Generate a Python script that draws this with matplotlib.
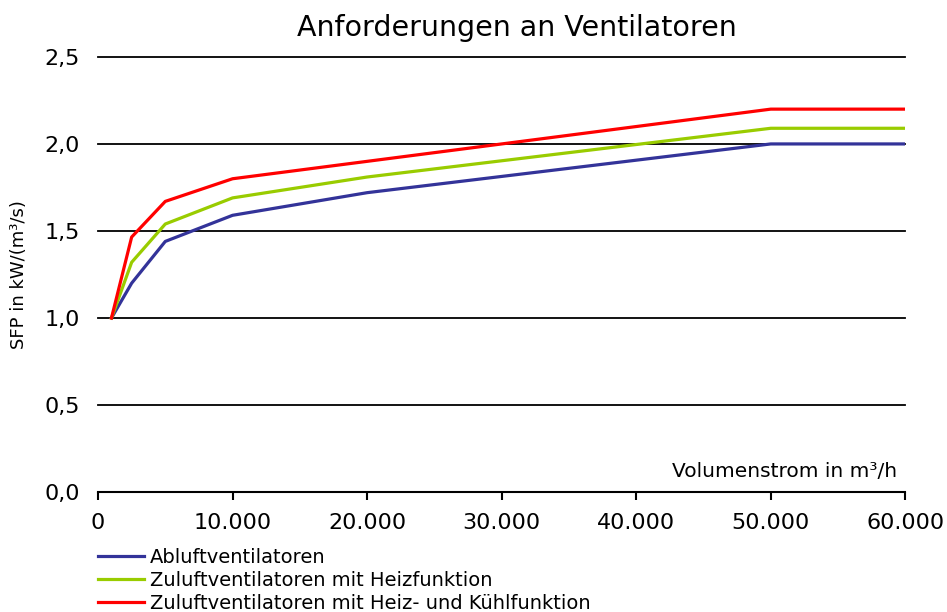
import matplotlib.pyplot as plt
from matplotlib.ticker import FuncFormatter

volumenstrom = [1000, 2500, 5000, 10000, 20000, 50000, 60000]
abluft = [1.0, 1.20, 1.44, 1.59, 1.72, 2.0, 2.0]
zuluft_heiz = [1.0, 1.32, 1.54, 1.69, 1.81, 2.09, 2.09]
zuluft_heiz_kuehl = [1.0, 1.465, 1.67, 1.80, 1.90, 2.2, 2.2]

series_labels = [
    "Abluftventilatoren",
    "Zuluftventilatoren mit Heizfunktion",
    "Zuluftventilatoren mit Heiz- und Kühlfunktion",
]
colors = ["#333399", "#99cc00", "#ff0000"]

plt.rcParams["font.family"] = ["DejaVu Sans"]

fig = plt.figure(figsize=(9.47, 6.12), dpi=100)
ax = fig.add_axes([0.1035, 0.196, 0.8525, 0.711])

for y, label, color in zip([abluft, zuluft_heiz, zuluft_heiz_kuehl], series_labels, colors):
    ax.plot(volumenstrom, y, color=color, lw=2.3, label=label, zorder=3)

ax.set_xlim(0, 60000)
ax.set_ylim(0, 2.5)
ax.set_xticks(range(0, 60001, 10000))
ax.set_yticks([0, 0.5, 1.0, 1.5, 2.0, 2.5])
ax.xaxis.set_major_formatter(FuncFormatter(lambda v, p: f"{int(v):,}".replace(",", ".")))
ax.yaxis.set_major_formatter(FuncFormatter(lambda v, p: f"{v:.1f}".replace(".", ",")))
ax.grid(axis="y", color="black", lw=1.3, zorder=1)
ax.set_axisbelow(True)
for gl in ax.get_ygridlines():
    gl.set_clip_on(False)

for s in ["top", "right", "left"]:
    ax.spines[s].set_visible(False)
ax.spines["bottom"].set_linewidth(1.5)
ax.tick_params(axis="x", direction="out", length=6, width=1.5, labelsize=16, pad=9)
ax.tick_params(axis="y", length=0, labelsize=16, pad=13)

ax.set_ylabel("SFP in kW/(m³/s)", fontsize=13, labelpad=12)
ax.text(0.99, 0.025, "Volumenstrom in m³/h", transform=ax.transAxes,
        ha="right", va="bottom", fontsize=14.5)

fig.text(0.546, 0.955, "Anforderungen an Ventilatoren", ha="center", va="center", fontsize=20.5)

fig.legend(loc="upper left", bbox_to_anchor=(0.1035, 0.105), frameon=False,
           fontsize=14, handlelength=2.35, handletextpad=0.3, labelspacing=0.22,
           borderaxespad=0, borderpad=0)

fig.savefig("out.png", dpi=100)
